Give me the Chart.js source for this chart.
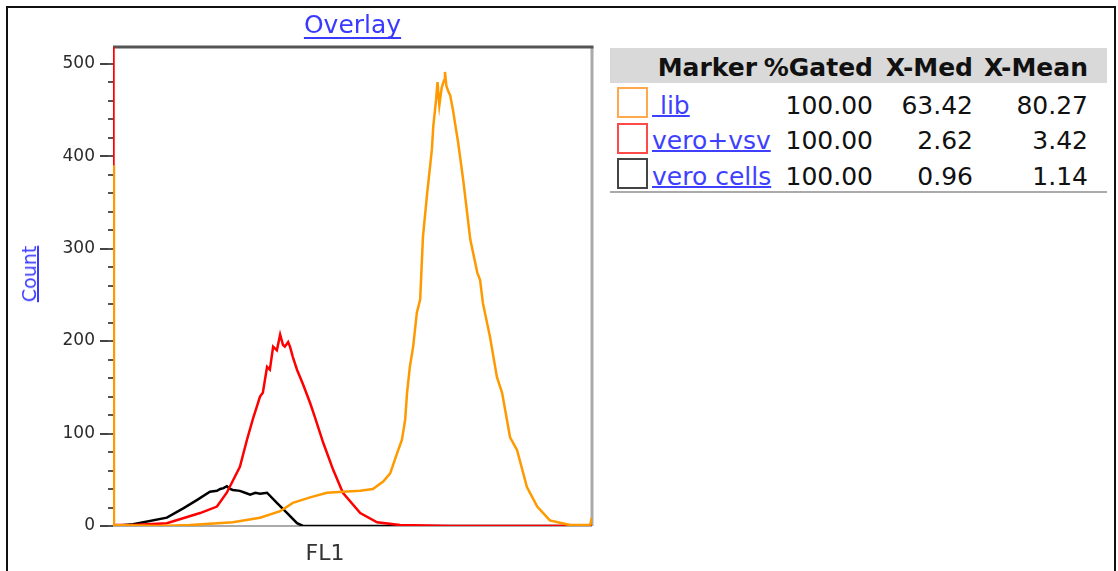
<!DOCTYPE html>
<html>
<head>
<meta charset="utf-8">
<title>Overlay</title>
<script src="https://cdn.jsdelivr.net/npm/chart.js@4.4.1/dist/chart.umd.min.js"></script>
<style>
  html, body { margin: 0; padding: 0; background: #fff; overflow: hidden; }
  body { width: 1118px; height: 571px; position: relative; font-family: "DejaVu Sans", sans-serif; }
  .frame { position: absolute; left: 6px; top: 6px; width: 1110px; height: 700px; border: 2px solid #111; box-sizing: border-box; }
  #plotWrap { position: absolute; left: 0; top: 0; width: 610px; height: 571px; }
  .axis-label { position: absolute; white-space: nowrap; transform: translate(-50%, -50%); }
  #countLabel { left: 29px; top: 274px; font-size: 19px; color: #3a3aff; text-decoration: underline; text-decoration-thickness: 2px; transform: translate(-50%, -50%) rotate(-90deg); }
  #fl1Label { left: 325px; top: 552px; font-size: 22px; color: #333; }
  #stats { position: absolute; left: 610px; top: 48px; width: 497px; font-size: 25px; color: #111; }
  #stats .hdr { position: absolute; left: 0; top: 0; width: 497px; height: 35px; background: #d9d9d9; }
  #stats .row { position: absolute; left: 0; width: 497px; height: 35px; line-height: 35px; }
  #stats .cell { position: absolute; top: 0; white-space: nowrap; text-align: right; }
  #stats .hdr .cell { font-weight: bold; line-height: 35px; top: 2px; }
  #stats .name { position: absolute; left: 42px; top: 0; color: #3f3fff; text-decoration: underline; text-decoration-thickness: 2px; white-space: pre; }
  #stats .swatch { position: absolute; left: 7px; width: 31px; height: 31px; border: 2px solid; box-sizing: border-box; background: #fff; }
  #stats .rule { position: absolute; left: 0; top: 143px; width: 497px; height: 2px; background: #aaa; }
</style>
</head>
<body>
<div class="frame"></div>
<div id="plotWrap"><canvas id="overlayChart" width="610" height="571"></canvas></div>
<div class="axis-label" id="countLabel">Count</div>
<div class="axis-label" id="fl1Label">FL1</div>
<div id="stats"></div>

<script>
// Histogram channels (FL1) and counts
const libChannels = [0, 2, 100, 164, 256, 314, 357, 384, 421, 457, 491, 528, 555, 577, 592, 607, 617, 624, 628, 634, 641, 649, 656, 662, 671, 681, 684, 690, 693, 697, 702, 707, 709, 712, 716, 720, 726, 737, 748, 763, 778, 784, 790, 805, 820, 831, 848, 863, 884, 906, 933, 976, 1019, 1023];
const libCounts   = [390, 1, 0, 1, 4, 9, 16, 25, 31, 36, 37, 38, 40, 48, 57, 79, 93, 115, 144, 172, 194, 231, 245, 313, 360, 407, 432, 461, 480, 455, 474, 482, 491, 476, 470, 466, 450, 415, 374, 310, 274, 266, 241, 205, 161, 144, 96, 82, 42, 21, 6, 1, 1, 9];

const vsvChannels = [0, 1, 43, 115, 186, 222, 243, 271, 286, 299, 314, 320, 329, 335, 342, 350, 357, 363, 367, 374, 378, 384, 393, 406, 421, 431, 449, 470, 491, 528, 564, 613, 720, 1023];
const vsvCounts   = [600, 1, 1, 3, 14, 21, 36, 64, 93, 116, 140, 144, 172, 169, 194, 190, 207, 196, 194, 199, 194, 183, 169, 153, 133, 118, 90, 61, 36, 14, 4, 1, 0, 0];

const veroChannels = [0, 43, 115, 150, 179, 207, 222, 229, 236, 243, 250, 256, 271, 282, 293, 304, 314, 329, 350, 372, 393, 406, 613, 1023];
const veroCounts   = [0, 2, 9, 19, 28, 37, 38, 40, 41, 43, 40, 39, 38, 36, 34, 36, 35, 36, 25, 14, 3, 0, 0, 0];

// Stats table
const markerNames = ['\u00a0lib', 'vero+vsv', 'vero cells'];
const markerColors = ['#ff9900', '#ff0000', '#000000'];
const swatchColors = ['#ffa84c', '#ff4a4a', '#444444'];
const pctGated = ['100.00', '100.00', '100.00'];
const xMed = ['63.42', '2.62', '0.96'];
const xMean = ['80.27', '3.42', '1.14'];
const statHeaders = ['Marker', '%Gated', 'X-Med', 'X-Mean'];

const yMax = 518;
const xMax = 1023;

function toPoints(xs, ys) {
    return xs.map((x, i) => ({ x: x, y: ys[i] }));
}

function buildStats() {
    const el = document.getElementById('stats');
    const colRight = [350, 234, 134, 19]; // css "right" offsets of each column
    let html = '<div class="hdr">';
    statHeaders.forEach((h, i) => {
        html += `<div class="cell" style="right:${colRight[i]}px">${h}</div>`;
    });
    html += '</div>';
    markerNames.forEach((name, r) => {
        const top = 39.5 + r * 35.5;
        html += `<div class="swatch" style="top:${top - 0.5}px;border-color:${swatchColors[r]}"></div>`;
        html += `<div class="row" style="top:${top}px">` +
            `<div class="name">${name}</div>` +
            `<div class="cell" style="right:${colRight[1]}px">${pctGated[r]}</div>` +
            `<div class="cell" style="right:${colRight[2]}px">${xMed[r]}</div>` +
            `<div class="cell" style="right:${colRight[3]}px">${xMean[r]}</div>` +
            `</div>`;
    });
    html += '<div class="rule"></div>';
    el.innerHTML = html;
}

// plot frame: dark top edge, light right and bottom edges
const framePlugin = {
    id: 'frame',
    beforeDatasetsDraw(chart) {
        const { ctx, chartArea: a } = chart;
        ctx.save();
        ctx.lineWidth = 2;
        ctx.strokeStyle = '#aaaaaa';
        ctx.beginPath();
        ctx.moveTo(a.left, a.bottom);
        ctx.lineTo(a.right, a.bottom);
        ctx.stroke();
        ctx.lineWidth = 3;
        ctx.beginPath();
        ctx.moveTo(a.right, a.top);
        ctx.lineTo(a.right, a.bottom);
        ctx.stroke();
        ctx.strokeStyle = '#555555';
        ctx.beginPath();
        ctx.moveTo(a.left, a.top);
        ctx.lineTo(a.right + 1.5, a.top);
        ctx.stroke();
        ctx.restore();
    }
};

// underline under the chart title
const titleUnderline = {
    id: 'titleUnderline',
    afterDraw(chart) {
        const t = chart.titleBlock;
        if (!t) return;
        const opts = chart.options.plugins.title;
        const ctx = chart.ctx;
        ctx.save();
        ctx.font = `${opts.font.size}px ${opts.font.family}`;
        const w = ctx.measureText(opts.text).width;
        const cx = (t.left + t.right) / 2;
        const y = t.top + t.height - opts.padding.bottom - 3;
        ctx.strokeStyle = opts.color;
        ctx.lineWidth = 2;
        ctx.beginPath();
        ctx.moveTo(cx - w / 2, y);
        ctx.lineTo(cx + w / 2, y);
        ctx.stroke();
        ctx.restore();
    }
};

function renderChart() {
    const ctx = document.getElementById('overlayChart');
    new Chart(ctx.getContext('2d'), {
        type: 'line',
        data: {
            datasets: [
                { label: 'lib', data: toPoints(libChannels, libCounts), borderColor: markerColors[0] },
                { label: 'vero+vsv', data: toPoints(vsvChannels, vsvCounts), borderColor: markerColors[1] },
                { label: 'vero cells', data: toPoints(veroChannels, veroCounts), borderColor: markerColors[2] }
            ]
        },
        options: {
            responsive: false,
            animation: false,
            datasets: { line: { borderWidth: 2.5, pointRadius: 0, tension: 0, fill: false } },
            layout: { padding: { left: 0, right: 18, top: 0, bottom: 0 } },
            plugins: {
                legend: { display: false },
                tooltip: { enabled: false },
                title: {
                    display: true, text: 'Overlay', fullSize: false, color: '#3a3aff',
                    font: { family: 'DejaVu Sans', size: 25, weight: 'normal', lineHeight: 1.2 },
                    padding: { top: 11, bottom: 6 }
                }
            },
            scales: {
                x: {
                    type: 'linear', min: 0, max: xMax,
                    ticks: { display: false },
                    grid: { display: false },
                    border: { display: false },
                    afterFit(s) { s.height = 45; }
                },
                y: {
                    type: 'linear', position: 'left', weight: 1, min: 0, max: yMax,
                    border: { display: false },
                    grid: { drawOnChartArea: false, drawTicks: true, tickLength: 13, color: '#444', lineWidth: 2 },
                    ticks: {
                        stepSize: 100, autoSkip: false, includeBounds: false, padding: 5, color: '#2a2a2a',
                        font: { family: 'DejaVu Sans', size: 17 },
                        callback: (v) => v % 100 === 0 ? v : null
                    },
                    afterFit(s) { s.width = 113; }
                },
                yMinor: {
                    type: 'linear', position: 'left', weight: 0, min: 0, max: yMax,
                    border: { display: false },
                    grid: { drawOnChartArea: false, drawTicks: true, tickLength: 5, color: '#555', lineWidth: 2 },
                    ticks: {
                        display: false, stepSize: 20, autoSkip: false, includeBounds: false,
                        callback: (v) => v % 20 === 0 ? '' : null
                    },
                    afterFit(s) { s.width = 0; }
                }
            }
        },
        plugins: [framePlugin, titleUnderline]
    });
}

buildStats();
renderChart();
</script>
</body>
</html>
